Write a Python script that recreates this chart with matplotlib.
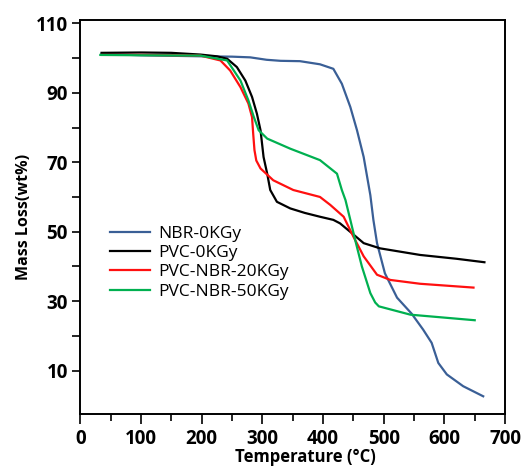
import matplotlib.pyplot as plt
from matplotlib.ticker import MultipleLocator, FixedLocator

# TGA curves
nbr_temp = [35, 100, 200, 250, 280, 307, 330, 362, 395, 417, 431, 445, 456, 467, 478, 483, 489,
            502, 522, 546, 565, 579, 590, 604, 631, 664]
nbr_mass = [101.2, 100.8, 100.5, 100.4, 100.2, 99.5, 99.2, 99.1, 98.2, 96.9, 92.6, 85.9, 79.2, 71.5,
            60.5, 53.4, 46.7, 38.0, 31.0, 26.4, 21.8, 18.0, 12.2, 8.9, 5.5, 2.6]

pvc_temp = [35, 100, 150, 198, 225, 242, 258, 272, 283, 291, 297, 302, 308, 313, 324, 346, 370,
            395, 417, 428, 448, 467, 494, 560, 620, 666]
pvc_mass = [101.5, 101.6, 101.5, 101.0, 100.5, 99.8, 97.4, 93.5, 88.8, 84.0, 79.2, 71.5, 66.7,
            62.0, 58.6, 56.7, 55.4, 54.3, 53.4, 52.4, 49.5, 46.7, 45.2, 43.3, 42.2, 41.2]

pvc20_temp = [36, 100, 198, 231, 247, 264, 277, 283, 285, 287, 290, 297, 318, 351, 395, 412, 434,
              450, 467, 489, 511, 560, 648]
pvc20_mass = [100.9, 100.9, 100.7, 99.3, 96.4, 91.6, 86.9, 83.0, 78.0, 73.5, 70.5, 68.2, 64.8,
              62.0, 60.0, 57.7, 54.3, 48.6, 42.9, 37.6, 36.1, 35.0, 33.9]

pvc50_temp = [33, 100, 198, 242, 264, 277, 286, 294, 308, 346, 395, 423, 431, 437, 445, 453, 464,
              478, 486, 492, 544, 650]
pvc50_mass = [100.9, 100.8, 100.7, 99.3, 93.5, 87.8, 83.0, 79.2, 76.8, 73.9, 70.6, 66.7, 62.0,
              59.1, 53.4, 47.6, 40.0, 32.3, 29.6, 28.5, 26.1, 24.5]

fig = plt.figure(figsize=(5.25, 4.67), dpi=100)
ax = fig.add_axes([0.153, 0.1135, 0.809, 0.844])

lw = 1.6
ax.plot(nbr_temp, nbr_mass, color="#3a5f96", lw=lw, label="NBR-0KGy")
ax.plot(pvc_temp, pvc_mass, color="black", lw=lw, label="PVC-0KGy")
ax.plot(pvc20_temp, pvc20_mass, color="#ff1010", lw=lw, label="PVC-NBR-20KGy")
ax.plot(pvc50_temp, pvc50_mass, color="#00b050", lw=lw, label="PVC-NBR-50KGy")

ax.set_xlim(0, 700)
ax.set_ylim(-2.5, 111)

ax.xaxis.set_major_locator(MultipleLocator(100))
ax.xaxis.set_minor_locator(MultipleLocator(50))
ax.yaxis.set_major_locator(FixedLocator([10, 30, 50, 70, 90, 110]))
ax.yaxis.set_minor_locator(FixedLocator([20, 40, 60, 80, 100]))

ax.tick_params(axis="x", which="major", direction="out", length=7, width=1.2, pad=4)
ax.tick_params(axis="x", which="minor", direction="out", length=5, width=1.2)
ax.tick_params(axis="y", which="both", direction="out", length=6, width=1.2, pad=3)
ax.tick_params(which="both", top=False, right=False)

for lab in ax.get_xticklabels() + ax.get_yticklabels():
    lab.set_family("Open Sans")
    lab.set_fontweight("bold")
    lab.set_fontsize(13.5)

for sp in ax.spines.values():
    sp.set_linewidth(1.4)

ax.set_xlabel("Temperature (°C)", family="Open Sans", fontweight="bold", fontsize=12)
ax.xaxis.set_label_coords(0.53, -0.086, transform=ax.transAxes)
ax.xaxis.label.set_va("top")
ax.set_ylabel("Mass Loss(wt%)", family="Open Sans", fontweight="bold", fontsize=11.5, labelpad=3)

ax.legend(loc="upper left", bbox_to_anchor=(0.07, 0.478), frameon=False, borderpad=0,
          borderaxespad=0, handlelength=2.3, handletextpad=0.46, labelspacing=0.18,
          prop={"family": "Open Sans", "size": 12.5})

fig.savefig("out.png", dpi=100)
